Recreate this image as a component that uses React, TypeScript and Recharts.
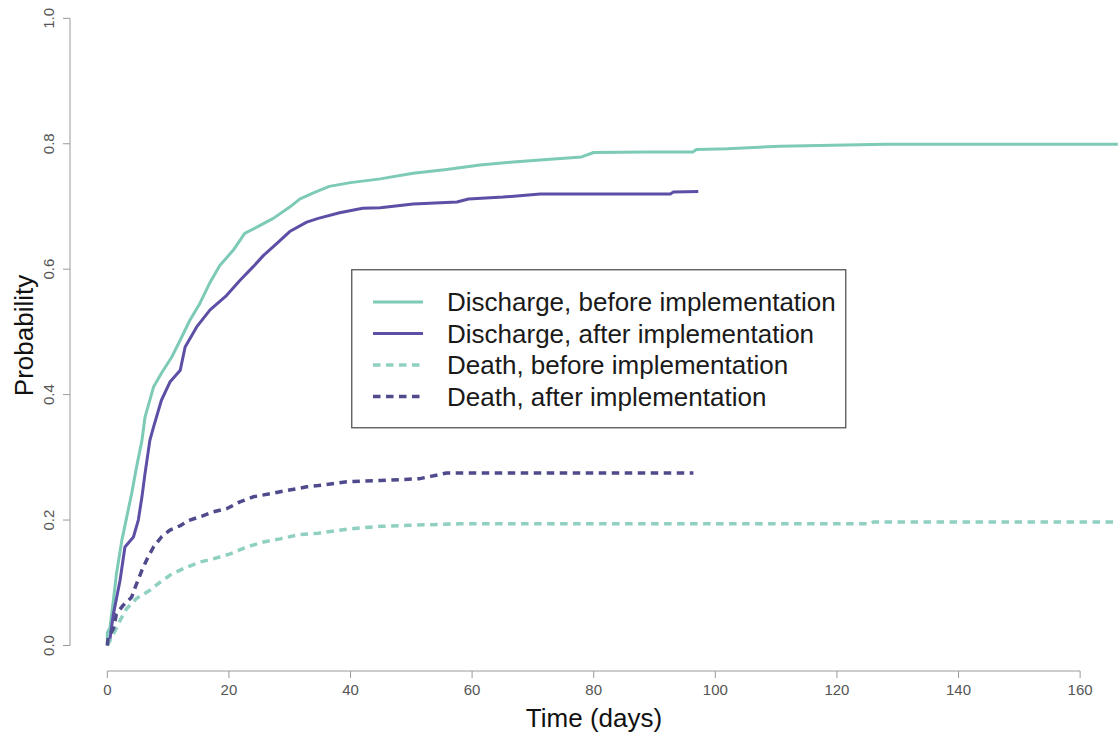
import React from "react";
import { LineChart, Line, XAxis, YAxis, ReferenceLine } from "recharts";

const FONT = '"Liberation Sans", Arial, Helvetica, sans-serif';
const TEAL = "#7dcab7";
const TEAL_LIGHT = "#8fd0c1";
const PURPLE = "#5b50a6";
const PURPLE_DARK = "#4f4a8c";

// axis ranges (R style: 4% padding around data)
const X_MIN = -6.135;
const X_MAX = 166.23;
const Y_MIN = -0.0407;
const Y_MAX = 1.0292;

const xTicks = [0, 20, 40, 60, 80, 100, 120, 140, 160];
const yTicks = [0, 0.2, 0.4, 0.6, 0.8, 1.0];

// cumulative incidence, discharge before implementation
const dischargeBeforeTime = [
  0, 0, 0.44, 1.0, 1.5, 2.4, 3.2, 4.0, 4.8, 5.7, 6.2, 7.6, 8.9, 10.6, 12.0, 13.6,
  15.2, 16.8, 18.5, 20.7, 22.6, 24.6, 27.3, 30.0, 31.7, 34.0, 36.5, 40.0, 44.9,
  50.3, 55.8, 61.3, 66.8, 72.3, 78.0, 80.0, 88.7, 96.3, 96.9, 102.0, 110.6, 128.0,
  166.2,
];
const dischargeBeforeProb = [
  0, 0.02, 0.029, 0.072, 0.114, 0.168, 0.205, 0.242, 0.284, 0.327, 0.364, 0.412,
  0.434, 0.46, 0.487, 0.519, 0.545, 0.577, 0.606, 0.63, 0.657, 0.667, 0.681,
  0.699, 0.712, 0.722, 0.732, 0.738, 0.744, 0.753, 0.759, 0.766, 0.771, 0.775,
  0.779, 0.786, 0.787, 0.787, 0.791, 0.792, 0.796, 0.799, 0.799,
];

// discharge after implementation
const dischargeAfterTime = [
  0, 0.4, 1.0, 2.1, 2.9, 4.3, 5.1, 5.7, 6.2, 7.0, 7.6, 8.9, 10.3, 12.0, 12.8,
  14.7, 16.9, 19.6, 21.8, 24.0, 25.7, 27.9, 30.0, 32.8, 34.7, 38.2, 42.0, 44.9,
  50.3, 57.5, 59.4, 65.1, 71.2, 92.6, 93.1, 97.2,
];
const dischargeAfterProb = [
  0, 0.008, 0.05, 0.104, 0.157, 0.173, 0.2, 0.237, 0.274, 0.327, 0.348, 0.391,
  0.42, 0.439, 0.476, 0.508, 0.535, 0.558, 0.582, 0.604, 0.622, 0.641, 0.66,
  0.675, 0.681, 0.69, 0.697, 0.698, 0.704, 0.707, 0.712, 0.715, 0.72, 0.72,
  0.723, 0.724,
];

// death before implementation
const deathBeforeTime = [
  0, 0.16, 1.3, 2.1, 3.2, 4.8, 7.0, 8.7, 10.6, 13.1, 15.2, 17.4, 20.2, 22.9,
  25.7, 28.4, 31.7, 34.7, 40.0, 45.0, 51.0, 58.0, 125.5, 126.0, 166.2,
];
const deathBeforeProb = [
  0, 0.003, 0.024, 0.04, 0.059, 0.075, 0.088, 0.101, 0.114, 0.125, 0.133, 0.138,
  0.146, 0.157, 0.165, 0.17, 0.177, 0.179, 0.186, 0.19, 0.192, 0.194, 0.194,
  0.197, 0.197,
];

// death after implementation
const deathAfterTime = [
  0, 0.16, 1.0, 1.5, 2.6, 4.0, 4.6, 5.7, 6.7, 7.6, 8.9, 10.3, 12.0, 13.3, 15.8,
  17.4, 19.6, 21.8, 24.0, 26.8, 29.5, 32.8, 34.7, 39.4, 44.9, 51.4, 53.4, 55.8,
  96.4,
];
const deathAfterProb = [
  0, 0.013, 0.027, 0.05, 0.064, 0.077, 0.093, 0.12, 0.141, 0.157, 0.173, 0.184,
  0.191, 0.199, 0.207, 0.213, 0.218, 0.229, 0.237, 0.242, 0.247, 0.253, 0.255,
  0.261, 0.263, 0.266, 0.27, 0.275, 0.275,
];

const toPoints = (time: number[], prob: number[]) =>
  time.map((t, i) => ({ t, p: prob[i] }));

const series = [
  {
    name: "Discharge, before implementation",
    data: toPoints(dischargeBeforeTime, dischargeBeforeProb),
    color: TEAL,
    dash: undefined as string | undefined,
    width: 3,
  },
  {
    name: "Discharge, after implementation",
    data: toPoints(dischargeAfterTime, dischargeAfterProb),
    color: PURPLE,
    dash: undefined as string | undefined,
    width: 3,
  },
  {
    name: "Death, before implementation",
    data: toPoints(deathBeforeTime, deathBeforeProb),
    color: TEAL_LIGHT,
    dash: "7.5 5.5",
    width: 3.5,
  },
  {
    name: "Death, after implementation",
    data: toPoints(deathAfterTime, deathAfterProb),
    color: PURPLE_DARK,
    dash: "7.5 5.5",
    width: 3.5,
  },
];

function XTick(props: any) {
  const { x, y, payload } = props;
  return (
    <text x={x} y={y + 14.5} textAnchor="middle" fill="#555" fontSize={15} fontFamily={FONT}>
      {payload.value}
    </text>
  );
}

function YTick(props: any) {
  const { x, y, payload } = props;
  const tx = x - 7;
  return (
    <text
      x={tx}
      y={y}
      transform={`rotate(-90, ${tx}, ${y})`}
      textAnchor="middle"
      fill="#555"
      fontSize={15}
      fontFamily={FONT}
    >
      {payload.value.toFixed(1)}
    </text>
  );
}

function XTitle(props: any) {
  const { viewBox } = props;
  return (
    <text
      x={viewBox.x + viewBox.width / 2}
      y={viewBox.y + 56}
      textAnchor="middle"
      fill="#111"
      fontSize={26}
      fontFamily={FONT}
    >
      Time (days)
    </text>
  );
}

function YTitle(props: any) {
  const { viewBox } = props;
  const cx = viewBox.x + 33;
  const cy = viewBox.y + viewBox.height / 2;
  return (
    <text
      x={cx}
      y={cy}
      transform={`rotate(-90, ${cx}, ${cy})`}
      textAnchor="middle"
      fill="#111"
      fontSize={26}
      fontFamily={FONT}
    >
      Probability
    </text>
  );
}

function LegendBox() {
  const rowGap = 31.5;
  return (
    <svg
      width={496}
      height={160}
      style={{ position: "absolute", left: 351, top: 269 }}
    >
      <rect x={0.75} y={0.75} width={494} height={158} fill="#fff" stroke="#555" strokeWidth={1.3} />
      {series.map((s, i) => {
        const cy = 33 + i * rowGap;
        return (
          <g key={s.name}>
            <line
              x1={22}
              x2={72}
              y1={cy}
              y2={cy}
              stroke={s.color}
              strokeWidth={s.width}
              strokeDasharray={s.dash}
            />
            <text x={96} y={cy} dominantBaseline="central" fill="#1a1a1a" fontSize={26} fontFamily={FONT}>
              {s.name}
            </text>
          </g>
        );
      })}
    </svg>
  );
}

export default function App() {
  return (
    <div
      style={{
        position: "absolute",
        left: 0,
        top: 0,
        width: 1118,
        height: 744,
        background: "#fff",
        overflow: "hidden",
      }}
    >
      <LineChart width={1118} height={744} margin={{ top: 0, right: 0, bottom: 0, left: 0 }}>
        <XAxis
          type="number"
          dataKey="t"
          domain={[X_MIN, X_MAX]}
          ticks={xTicks}
          allowDataOverflow
          height={73}
          tickSize={7}
          axisLine={false}
          tickLine={{ stroke: "#9a9a9a" }}
          tick={<XTick />}
          label={<XTitle />}
        />
        <YAxis
          type="number"
          dataKey="p"
          domain={[Y_MIN, Y_MAX]}
          ticks={yTicks}
          allowDataOverflow
          width={70}
          tickSize={7}
          axisLine={false}
          tickLine={{ stroke: "#9a9a9a" }}
          tick={<YTick />}
          label={<YTitle />}
        />
        <ReferenceLine
          segment={[
            { x: 0, y: Y_MIN },
            { x: 160, y: Y_MIN },
          ]}
          stroke="#9a9a9a"
          strokeWidth={1}
        />
        <ReferenceLine
          segment={[
            { x: X_MIN, y: 0 },
            { x: X_MIN, y: 1 },
          ]}
          stroke="#9a9a9a"
          strokeWidth={1}
        />
        {series.map((s) => (
          <Line
            key={s.name}
            data={s.data}
            dataKey="p"
            type="linear"
            stroke={s.color}
            strokeWidth={s.width}
            strokeDasharray={s.dash}
            strokeLinejoin="round"
            dot={false}
            activeDot={false}
            isAnimationActive={false}
          />
        ))}
      </LineChart>
      <LegendBox />
    </div>
  );
}
